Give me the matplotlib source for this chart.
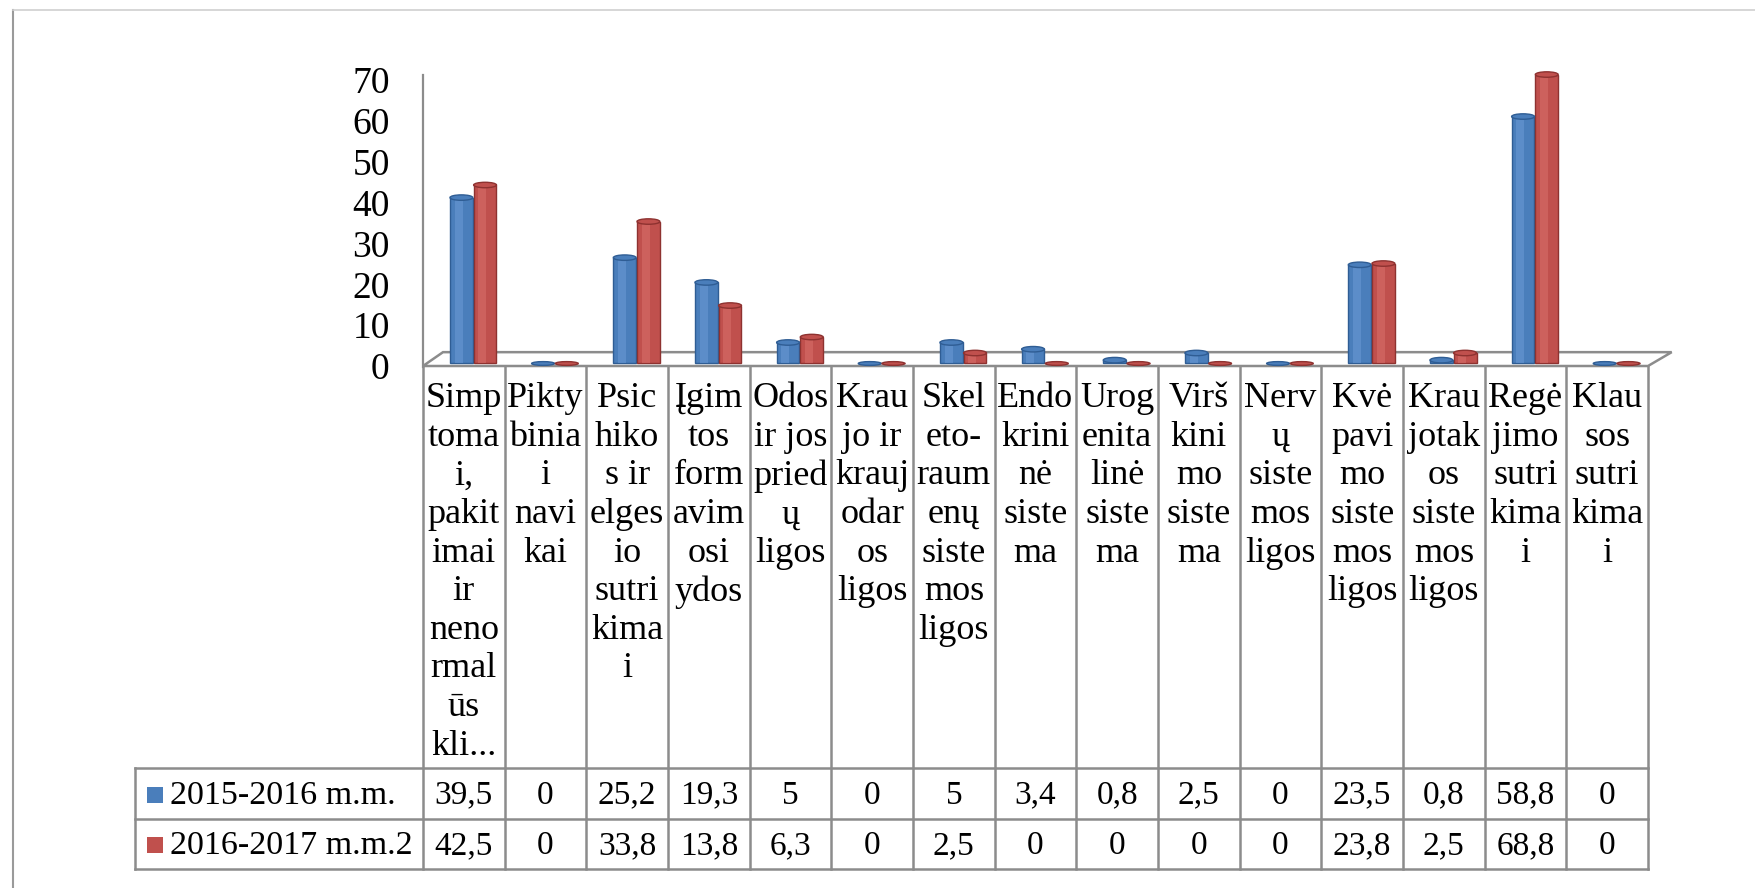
"""Excel-style 3D cylinder chart with data table: diseases by category, two school years."""

import matplotlib

matplotlib.use("Agg")
import matplotlib.pyplot as plt  # noqa: E402
from matplotlib.lines import Line2D  # noqa: E402
from matplotlib.patches import Ellipse, Polygon, Rectangle  # noqa: E402

plt.rcParams["font.family"] = ["Liberation Serif", "DejaVu Serif"]

categories = [
    "Simp\ntoma\ni,\npakit\nimai\nir\nneno\nrmal\nūs\nkli...",
    "Pikty\nbinia\ni\nnavi\nkai",
    "Psic\nhiko\ns ir\nelges\nio\nsutri\nkima\ni",
    "Įgim\ntos\nform\navim\nosi\nydos",
    "Odos\nir jos\npried\nų\nligos",
    "Krau\njo ir\nkrauj\nodar\nos\nligos",
    "Skel\neto-\nraum\nenų\nsiste\nmos\nligos",
    "Endo\nkrini\nnė\nsiste\nma",
    "Urog\nenita\nlinė\nsiste\nma",
    "Virš\nkini\nmo\nsiste\nma",
    "Nerv\nų\nsiste\nmos\nligos",
    "Kvė\npavi\nmo\nsiste\nmos\nligos",
    "Krau\njotak\nos\nsiste\nmos\nligos",
    "Regė\njimo\nsutri\nkima\ni",
    "Klau\nsos\nsutri\nkima\ni",
]
series_names = ["2015-2016 m.m.", "2016-2017 m.m.2"]
values_1516 = [39.5, 0, 25.2, 19.3, 5, 0, 5, 3.4, 0.8, 2.5, 0, 23.5, 0.8, 58.8, 0]
values_1617 = [42.5, 0, 33.8, 13.8, 6.3, 0, 2.5, 0, 0, 0, 0, 23.8, 2.5, 68.8, 0]
yticks = [0, 10, 20, 30, 40, 50, 60, 70]

BLUE, BLUE_DK, BLUE_LT = "#4a7ebb", "#2f5d94", "#6c9bd6"
RED, RED_DK, RED_LT = "#c0504d", "#8e3230", "#d8706c"
GRID = "#8c8c8c"

W, H = 1756, 888
fig = plt.figure(figsize=(W / 100, H / 100), dpi=100, facecolor="white")

# outer frame (left + top only, like the cropped screenshot)
fig.add_artist(Line2D([13 / W, 13 / W], [0, 1 - 10 / H], color="#9a9a9a", lw=1.5))
fig.add_artist(Line2D([13 / W, 1], [1 - 10 / H, 1 - 10 / H], color="#cfcfcf", lw=1.2))

n = len(categories)
x0, x1 = 423, 1648          # pixel span of the 15 category columns

# ---- back wall: value axis (perspective makes it a bit shorter than the bars) ----
w_bot, w_top = 367, 75
w_lo, w_hi = -0.24, 71.2
wax = fig.add_axes([x0 / W, 1 - w_bot / H, (x1 - x0) / W, (w_bot - w_top) / H])
wax.set_xlim(0, n)
wax.set_ylim(w_lo, w_hi)
wax.set_xticks([])
wax.set_yticks(yticks)
wax.set_yticklabels([str(t) for t in yticks], fontsize=27)
wax.tick_params(axis="y", length=0, pad=24)
for s in ("top", "right", "bottom"):
    wax.spines[s].set_visible(False)
wax.spines["left"].set_color(GRID)
wax.spines["left"].set_linewidth(1.6)
wax.patch.set_alpha(0)

# ---- bars ----
y_zero, y_front = 363.5, 366   # pixel of value 0 and of the floor's front edge
px_per_unit = 4.2
y_lo, y_hi = -(y_front - y_zero) / px_per_unit, 70.0
ax_top = y_zero - y_hi * px_per_unit
ax = fig.add_axes([x0 / W, 1 - y_front / H, (x1 - x0) / W, (y_front - ax_top) / H])
ax.set_xlim(0, n)
ax.set_ylim(y_lo, y_hi)
ax.axis("off")

# floor of the 3D plot
floor = Polygon([(0, y_lo), (n, y_lo), (n + 0.29, 2.7), (0.245, 2.7)], closed=True,
                facecolor="white", edgecolor=GRID, lw=1.8, clip_on=False, zorder=1)
ax.add_patch(floor)

bw = 0.28
cap_h = 1.3
for vals, off, fc, dk, lt in ((values_1516, 0.47, BLUE, BLUE_DK, BLUE_LT),
                              (values_1617, 0.76, RED, RED_DK, RED_LT)):
    xs = [i + off for i in range(n)]
    ax.bar(xs, vals, width=bw, color=fc, edgecolor=dk, lw=1.0, zorder=3, clip_on=False)
    # lighter stripe to fake a cylinder
    ax.bar([x - bw * 0.12 for x in xs], vals, width=bw * 0.35, color=lt, lw=0, alpha=0.55,
           zorder=3.5, clip_on=False)
    for x, v in zip(xs, vals):
        h = cap_h if v > 0 else 0.9
        ax.add_patch(Ellipse((x, v), bw, h, facecolor=fc, edgecolor=dk, lw=1.0,
                             zorder=4, clip_on=False))

# ---- data table ----
tl, tb = 135, 869
row1, row2 = 768, 819
leg_w = (x0 - tl) / ((x1 - x0) / n)
tax = fig.add_axes([tl / W, 1 - tb / H, (x1 - tl) / W, (tb - y_front) / H])
tax.set_xlim(-leg_w, n)
tax.set_ylim(tb, y_front)
tax.axis("off")

lkw = dict(color=GRID, lw=1.8, clip_on=False, solid_capstyle="projecting")
for i in range(n + 1):
    tax.plot([i, i], [y_front, tb], **lkw)
for yy in (row1, row2, tb):
    tax.plot([-leg_w, n], [yy, yy], **lkw)
tax.plot([-leg_w, -leg_w], [row1, tb], **lkw)

for i, lab in enumerate(categories):
    tax.text(i + 0.5, 382, lab, ha="center", va="top", fontsize=26, linespacing=1.225)


def fmt(v):
    return f"{v:g}".replace(".", ",")


col_px = (x1 - x0) / n
for vals, name, color, (ya, yb) in ((values_1516, series_names[0], BLUE, (row1, row2)),
                                    (values_1617, series_names[1], RED, (row2, tb))):
    yc = (ya + yb) / 2
    for i, v in enumerate(vals):
        tax.text(i + 0.5, yc + 2, fmt(v), ha="center", va="center", fontsize=24)
    tax.add_patch(Rectangle((-leg_w + 12 / col_px, yc - 7), 16 / col_px, 16, facecolor=color,
                            edgecolor="none", clip_on=False))
    tax.text(-leg_w + 35 / col_px, yc + 2, name, ha="left", va="center", fontsize=24.5)

fig.savefig("out.png", dpi=100, facecolor="white")
plt.close(fig)
